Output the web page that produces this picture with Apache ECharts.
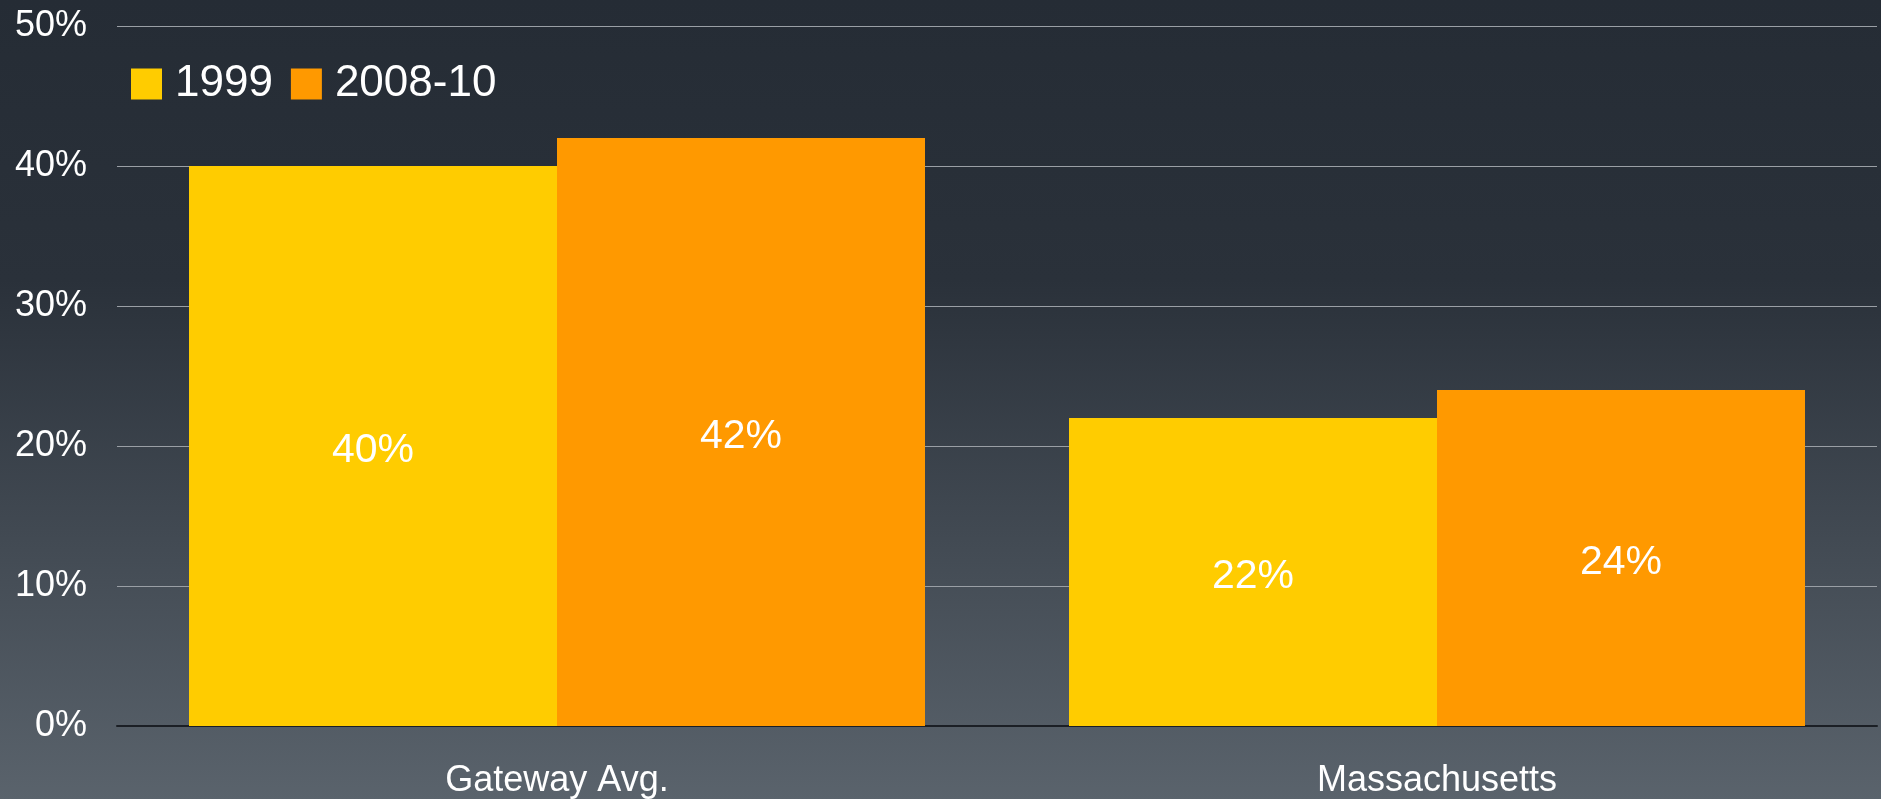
<!DOCTYPE html>
<html>
<head>
<meta charset="utf-8">
<script src="https://cdn.jsdelivr.net/npm/echarts@6/dist/echarts.min.js"></script>
<style>
  html, body { margin: 0; padding: 0; }
  #main { width: 1881px; height: 799px; background: linear-gradient(to bottom, #252c35 0%, #2a313a 35%, #5a636c 100%); }
</style>
</head>
<body>
<div id="main"></div>
<script>
  // data
  const categories = ['Gateway Avg.', 'Massachusetts'];
  const seriesNames = ['1999', '2008-10'];
  const values1999 = [40, 22];
  const values2008 = [42, 24];
  const colors = ['#ffcc00', '#ff9900'];

  const chart = echarts.init(document.getElementById('main'));

  const labelStyle = {
    show: true,
    position: 'inside',
    offset: [0, 5],
    color: '#ffffff',
    fontSize: 41,
    fontFamily: 'Liberation Sans',
    formatter: function (p) { return p.value + '%'; }
  };

  const option = {
    backgroundColor: 'transparent',
    animation: false,
    color: colors,
    textStyle: { fontFamily: 'Liberation Sans' },
    legend: {
      data: seriesNames,
      left: 126,
      top: 57,
      itemWidth: 31,
      itemHeight: 31,
      itemGap: 18,
      icon: 'rect',
      textStyle: { color: '#ffffff', fontSize: 44, fontFamily: 'Liberation Sans', padding: [0, 0, 0, 8] }
    },
    grid: { left: 117, right: 4, top: 26, bottom: 73 },
    xAxis: {
      type: 'category',
      data: categories,
      axisTick: { show: false },
      axisLine: { show: true, lineStyle: { color: '#1b1f25', width: 2 } },
      axisLabel: { color: '#ffffff', fontSize: 36, margin: 37, fontFamily: 'Liberation Sans' }
    },
    yAxis: {
      type: 'value',
      min: 0,
      max: 50,
      interval: 10,
      axisLine: { show: false },
      axisTick: { show: false },
      splitLine: { lineStyle: { color: '#9a9fa5', width: 1 } },
      axisLabel: { color: '#ffffff', fontSize: 36, margin: 30, padding: [5, 0, 0, 0], fontFamily: 'Liberation Sans', formatter: '{value}%' }
    },
    series: [
      { name: seriesNames[0], type: 'bar', data: values1999, barWidth: 368, barGap: '0%', label: labelStyle },
      { name: seriesNames[1], type: 'bar', data: values2008, barWidth: 368, barGap: '0%', label: labelStyle }
    ]
  };

  chart.setOption(option);
</script>
</body>
</html>
